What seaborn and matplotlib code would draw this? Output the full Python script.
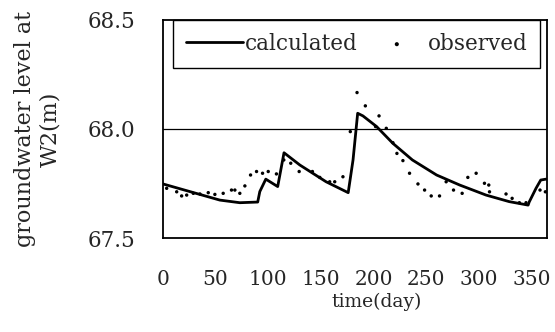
import numpy as np
import pandas as pd
import matplotlib
matplotlib.use("Agg")
import matplotlib.pyplot as plt
import seaborn as sns

# calculated groundwater level (day, m)
calc_day = [0, 54, 73, 90, 92, 97.7, 109, 115, 130, 155, 176, 180.6, 185, 190,
            203, 218.5, 237, 260, 282, 307, 329, 347, 348, 354.5, 359, 364]
calc_level = [67.748, 67.674, 67.662, 67.665, 67.713, 67.77, 67.736, 67.891,
              67.835, 67.758, 67.708, 67.858, 68.072, 68.06, 68.011, 67.934,
              67.858, 67.789, 67.743, 67.697, 67.667, 67.651, 67.665, 67.728,
              67.766, 67.77]

# observed groundwater level (day, m)
obs_day = [3.5, 13, 17.7, 22.5, 28.8, 35.1, 43, 49.3, 57.2, 65.1, 68.3, 73,
           77.8, 83.2, 88.9, 94.6, 100, 107.8, 114.8, 121.4, 129.4, 142, 149,
           158.4, 163.2, 171, 178, 184.4, 192.3, 205.3, 202, 212.2, 218.5,
           222.3, 228, 234.3, 242.3, 248.6, 254.9, 262.8, 269.1, 276.1, 284.3,
           289.7, 297.6, 305.5, 309.6, 310.3, 326, 331.8, 338.7, 345, 358.3,
           363.4]
obs_level = [67.728, 67.712, 67.693, 67.697, 67.705, 67.702, 67.708, 67.70,
             67.705, 67.72, 67.72, 67.705, 67.739, 67.789, 67.805, 67.797,
             67.805, 67.794, 67.858, 67.843, 67.805, 67.805, 67.778, 67.758,
             67.758, 67.781, 67.988, 68.167, 68.106, 68.06, 68.011, 68.003,
             67.937, 67.888, 67.855, 67.797, 67.748, 67.72, 67.693, 67.693,
             67.758, 67.72, 67.705, 67.778, 67.797, 67.751, 67.743, 67.712,
             67.702, 67.682, 67.662, 67.662, 67.72, 67.712]

x_ticks = [0, 50, 100, 150, 200, 250, 300, 350]
y_ticks = [67.5, 68.0, 68.5]

sns.set_theme(style="white")
plt.rcParams['font.family'] = ['DejaVu Serif']

calc_df = pd.DataFrame({'day': calc_day, 'level': calc_level})
obs_df = pd.DataFrame({'day': obs_day, 'level': obs_level})

fig = plt.figure(figsize=(5.55, 3.32), dpi=100)
ax = fig.add_axes([0.2937, 0.283, 0.692, 0.657])

ax.axhline(68.0, color='black', lw=0.9, zorder=1)
sns.lineplot(data=calc_df, x='day', y='level', ax=ax, color='black', lw=2,
             label='calculated', zorder=3)
sns.scatterplot(data=obs_df, x='day', y='level', ax=ax, color='black', s=6,
                edgecolor='none', label='observed', zorder=4)

ax.set_xlim(0, 365)
ax.set_ylim(67.5, 68.5)
ax.set_xticks(x_ticks)
ax.set_yticks(y_ticks)
ax.set_yticklabels([f'{v:.1f}' for v in y_ticks])
ax.tick_params(axis='x', direction='in', length=7, width=1, color='black',
               labelsize=14.5, pad=23)
ax.tick_params(axis='y', length=0, labelsize=15.5, pad=20)
for s in ax.spines.values():
    s.set_color('black')
    s.set_linewidth(1.3)

ax.set_xlabel('time(day)', fontsize=13.5, labelpad=3, x=0.557)
ax.set_ylabel('groundwater level at\nW2(m)', fontsize=16, labelpad=19)

# legend: calculated first, observed second, box across the top
handles, labels = ax.get_legend_handles_labels()
order = [labels.index('calculated'), labels.index('observed')]
leg = ax.legend([handles[i] for i in order], [labels[i] for i in order],
                loc='upper left', ncol=2, bbox_to_anchor=(0.026, 1.0, 0.956, 0.0),
                mode='expand', frameon=True, fancybox=False, fontsize=15.5,
                handlelength=2.65, handletextpad=0.1, borderpad=0.6,
                columnspacing=1.0, markerscale=1.2, borderaxespad=0.0)
leg.get_frame().set_edgecolor('black')
leg.get_frame().set_linewidth(1)
leg.get_frame().set_alpha(1)

fig.savefig('out.png', dpi=100)
